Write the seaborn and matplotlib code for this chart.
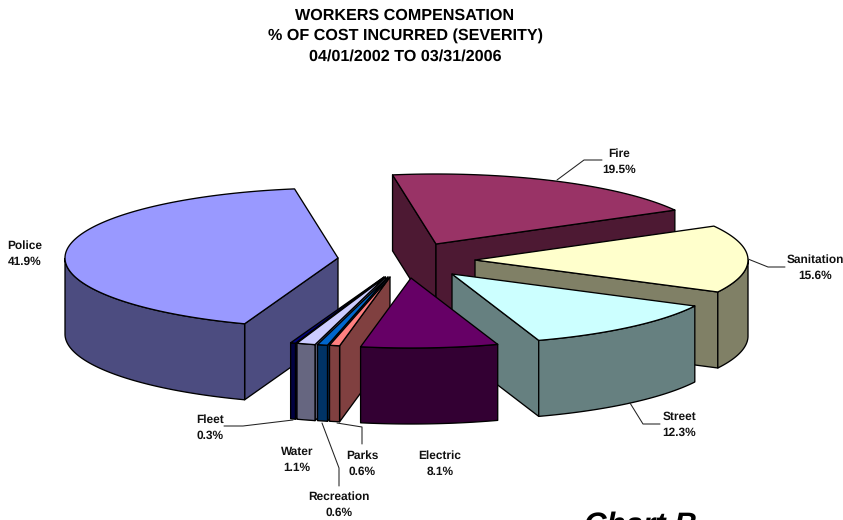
import numpy as np
import seaborn as sns
import matplotlib.pyplot as plt

# chart data
names = ['Police', 'Fire', 'Sanitation', 'Street', 'Electric', 'Parks', 'Recreation', 'Water', 'Fleet']
values = [41.9, 19.5, 15.6, 12.3, 8.1, 0.6, 0.6, 1.1, 0.3]
title_lines = ['WORKERS COMPENSATION', '% OF COST INCURRED (SEVERITY)', '04/01/2002 TO 03/31/2006']

top_colors = sns.color_palette(['#9999FF', '#993366', '#FFFFCC', '#CCFFFF', '#660066',
                                '#FF8080', '#0066CC', '#CCCCFF', '#000080'])
side_colors = sns.color_palette(['#4C4C80', '#4D1933', '#808066', '#668080', '#330033',
                                 '#804040', '#003366', '#666680', '#000040'])

# layout, in pixels of the 843x520 picture
apex = {'Police': (338, 258), 'Fire': (436, 244), 'Sanitation': (475, 260), 'Street': (452, 274),
        'Electric': (411, 278), 'Parks': (390, 277), 'Recreation': (388, 277), 'Water': (385.5, 277),
        'Fleet': (384, 277)}
label_pos = {'Police': (25, 254), 'Fire': (619, 162), 'Sanitation': (815, 268), 'Street': (679, 425),
             'Electric': (440, 464), 'Parks': (362, 464), 'Recreation': (339, 505), 'Water': (297, 460),
             'Fleet': (210, 428)}
leaders = {'Fire': [(557, 180), (584, 160), (602, 160)],
           'Sanitation': [(748, 259), (768, 267), (785, 267)],
           'Street': [(630, 403), (643, 424), (660, 424)],
           'Fleet': [(293, 420), (243, 426), (224, 426)],
           'Parks': [(337, 423), (362, 427), (362, 444)],
           'Recreation': [(322, 423), (339, 468), (339, 486)]}
draw_order = ['Fire', 'Police', 'Sanitation', 'Street', 'Fleet', 'Water', 'Recreation', 'Parks', 'Electric']
start_angle = 250.0
rx, ry = 273, 70
depth = 76

sns.set_theme(style='white')
plt.rcParams['font.family'] = ['Liberation Sans', 'DejaVu Sans']
plt.rcParams['text.hinting'] = 'no_hinting'

fig = plt.figure(figsize=(8.43, 5.2), dpi=100)
ax = fig.add_axes([0, 0, 1, 1])
ax.set_xlim(0, 843)
ax.set_ylim(520, 0)
ax.axis('off')


def rim(center, angles):
    rad = np.radians(angles)
    return center[0] + rx * np.cos(rad), center[1] - ry * np.sin(rad)


def draw_wedge(center, a1, a2, top, side):
    style = dict(edgecolor='black', linewidth=0.95, joinstyle='round')
    # radial faces, only where they look at the viewer
    for a, normal in [(a1, a1 + 90), (a2, a2 - 90)]:
        if np.sin(np.radians(normal)) < 0:
            x, y = rim(center, np.array([a]))
            ax.fill([center[0], x[0], x[0], center[0]],
                    [center[1], y[0], y[0] + depth, center[1] + depth],
                    facecolor=side, **style)
    # outer wall
    angles = np.linspace(a1, a2, 200)
    front = angles[np.sin(np.radians(angles)) < 0]
    if len(front) > 1:
        x, y = rim(center, front)
        ax.fill(np.r_[x, x[::-1]], np.r_[y, y[::-1] + depth], facecolor=side, **style)
    # top
    x, y = rim(center, angles)
    ax.fill(np.r_[center[0], x], np.r_[center[1], y], facecolor=top, **style)


# slices run clockwise from the police slice
sweep = np.array(values) / sum(values) * 360
edges = start_angle - np.r_[0, np.cumsum(sweep)]
for name in draw_order:
    i = names.index(name)
    draw_wedge(apex[name], edges[i], edges[i + 1], top_colors[i], side_colors[i])

for name, pts in leaders.items():
    xs, ys = zip(*pts)
    ax.plot(xs, ys, color='#222222', linewidth=0.75)

for name, value in zip(names, values):
    x, y = label_pos[name]
    ax.text(x, y, f'{name}\n{value}%', ha='center', va='center', fontsize=8.6,
            fontweight='bold', color='#111111', linespacing=1.52, clip_on=False)

ax.text(405, 36, '\n'.join(title_lines), ha='center', va='center', fontsize=11.6,
        fontweight='bold', color='black', linespacing=1.5)
ax.text(584, 534, 'Chart B', ha='left', va='baseline', fontsize=22.5,
        fontweight='bold', fontstyle='italic', color='black')

fig.savefig('out.png', dpi=100)
